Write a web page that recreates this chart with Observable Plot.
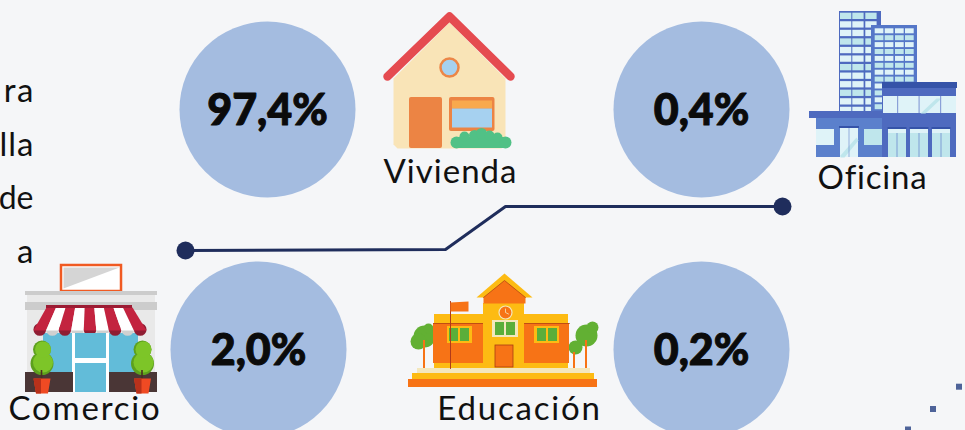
<!DOCTYPE html>
<html lang="es">
<head>
<meta charset="utf-8">
<script src="https://cdn.jsdelivr.net/npm/d3@7"></script>
<script src="https://cdn.jsdelivr.net/npm/@observablehq/plot@0.6"></script>
<style>
html,body{margin:0;padding:0;background:#f5f6f8;overflow:hidden}
svg{display:block}
</style>
</head>
<body>
<div id="chart"></div>
<script>
// ---- data ----
const categories = ["Vivienda", "Comercio", "Oficina", "Educación"];
const shares = [97.4, 2.0, 0.4, 0.2];
const fragments = ["ra", "lla", "de", "a"];

// ---- layout (pixel-like units of the linear x / y scales) ----
const circleX = [267, 258, 701, 701];
const circleY = [109, 349, 109, 349];
const labelX = [450, 84.5, 872, 519];
const labelY = [172, 409, 178, 409];
const labelSpacing = [1, 1.8, 0.8, 1.8];
const fragmentY = [91, 145, 198, 252];
const fragmentSize = [33, 33, 32, 33];
const fragmentSpacing = [1.5, 1, 0, 1.5];
const connector = [[185,250],[445,249],[505,206],[782,206]];

const fmt = v => v.toFixed(1).replace(".", ",") + "%";
const idx = shares.map((_, i) => i);
const X = d => d[0], Y = d => d[1];

// helpers: all shapes go through Plot's x / y scales
const R = (x1, x2, y1, y2, fill, o = {}) => Plot.rect([0], {x1: () => x1, x2: () => x2, y1: () => y1, y2: () => y2, fill, ...o});
const C = (x, y, r, fill, o = {}) => Plot.dot([0], {x: () => x, y: () => y, r, fill, stroke: "none", ...o});
const P = (pts, fill) => Plot.line(pts, {x: X, y: Y, fill, stroke: "none"});
const L = (pts, stroke, strokeWidth, o = {}) => Plot.line(pts, {x: X, y: Y, stroke, strokeWidth, ...o});

// ---- house ----
const house = [
  P([[393,78],[449,22],[505,78],[505,144],[501,148],[397,148],[393,144]], "#f9e4b7"),
  L([[387,76],[449,16],[510,76]], "#e54b50", 8.5, {strokeLinecap: "round", strokeLinejoin: "round"}),
  C(449, 67, 9, "#a6d1f0", {stroke: "#ec8647", strokeWidth: 2.5}),
  R(409, 442, 97, 148, "#ec8444", {rx: 2}),
  R(449, 494.5, 97, 131, "#ec8444", {rx: 2}),
  R(452, 492, 100.5, 108.5, "#f8a94e"),
  R(452, 492, 108.5, 127.5, "#a6d1f0"),
  R(456, 506, 137, 148, "#51c186"),
  C(456, 142, 6, "#51c186"), C(505, 142, 6, "#51c186"),
  C(464, 136, 5, "#51c186"), C(474, 135, 5.5, "#51c186"), C(481, 133, 5.5, "#51c186"),
  C(489, 135, 5, "#51c186"), C(497, 137, 5, "#51c186")
];

// ---- office ----
const range = (n, f) => d3.range(n).map(f);
const office = [
  R(839, 881, 11, 112, "#4e6abf"),
  ...[840, 852.3, 865.3].flatMap(x => range(12, i => R(x, x + 11.3, 12.7 + i * 8.55, 19 + i * 8.55, i % 3 === 0 ? "#bfe6ec" : "#dff3f8"))),
  R(871, 917, 25, 112, "#5577c8"),
  ...[874.7, 884.7, 895, 905].flatMap(x => range(12, i => R(x, x + 8.7, 28.3 + i * 6.9, 33.3 + i * 6.9, i % 2 ? "#bfe6ec" : "#dff3f8"))),
  R(882, 956, 88, 157, "#4e6abf"),
  R(882, 957, 82, 88, "#3553a8"),
  R(883, 956, 96, 113, "#dff3f8"),
  P([[920,113],[936,98],[941,98],[925,113]], "#bfe6ec"),
  ...[897, 918.5, 940].map(x => R(x, x + 1.2, 96, 113, "#8aa0d8")),
  R(809, 882, 111, 118, "#4e6abf"),
  R(816, 882, 118, 157, "#5b80cc"),
  R(816, 834, 129, 145, "#dff3f8"),
  R(864, 882, 129, 145, "#bfe6ec"),
  R(840, 858, 127, 157, "#dff3f8"),
  P([[840,155],[856,137],[858,140],[844,157],[840,157]], "#bfe6ec"),
  R(848.6, 849.4, 127, 157, "#7f9bd4"),
  R(839, 859, 126, 128, "#3553a8"),
  ...[888, 910, 932].flatMap(x => [
    R(x, x + 18, 128, 157, "#bfe6ec"),
    R(x, x + 18, 128, 133, "#dff3f8"),
    R(x - 0.5, x + 18.5, 127, 129, "#3553a8"),
    R(x + 8.5, x + 9.5, 133, 157, "#7f9bd4")
  ])
];

// ---- shop ----
const awningEdges = d3.range(10).map(i => [46 + i * 86 / 9, 33 + i * 113 / 9]);
const shop = [
  R(61, 121, 265, 291, "#fff", {stroke: "#f05a22", strokeWidth: 2.5}),
  P([[63,267],[119,267],[63,288]], "#d5d5d5"),
  R(27, 155, 295, 373, "#e9e9e9"),
  R(25, 157, 291, 295, "#cccccc"),
  R(25, 157, 302, 310, "#cccccc"),
  R(43, 138, 333, 373, "#62bcd9"),
  ...awningEdges.slice(0, 9).map((e, i) => C((e[1] + awningEdges[i + 1][1]) / 2, 329, 6.3, i % 2 ? "#d0d0d0" : "#8f1d33")),
  ...awningEdges.slice(0, 9).map((e, i) => P([[e[0], 307],[awningEdges[i + 1][0], 307],[awningEdges[i + 1][1], 330],[e[1], 330]], i % 2 ? "#ffffff" : "#c3233f")),
  R(46, 132, 305, 308, "#9c1c34"),
  R(72, 109, 333, 392, "#ffffff"),
  R(75, 106, 333, 358, "#62bcd9"),
  R(75, 106, 363, 392, "#62bcd9"),
  R(25, 73, 372, 392, "#4a3636"),
  R(109, 157, 372, 392, "#4a3636"),
  ...[41.5, 142].flatMap(x => [
    C(x, 363, 11.5, "#5da01e"), C(x, 349, 9, "#5da01e"),
    C(x + 1, 362, 10, "#7dc528"), C(x + 1, 349, 8, "#7dc528"),
    R(x - 0.8, x + 0.8, 370, 380, "#4a3020"),
    P([[x - 8.5,378],[x + 8.5,378],[x + 6,393],[x - 6,393]], "#ef4a23"),
    P([[x - 8.5,378],[x - 1,378],[x - 1,393],[x - 6,393]], "#b8311b")
  ])
];

// ---- school ----
const school = [
  C(424, 336, 11, "#62b033"), C(418, 341, 8, "#62b033"), C(428, 328, 5, "#62b033"),
  C(586, 335, 11, "#62b033"), C(575, 347, 7, "#62b033"), C(592, 327, 6, "#62b033"),
  R(423, 425, 340, 368, "#f77316"), R(585, 587, 340, 368, "#f77316"), R(573, 575, 352, 368, "#f77316"),
  R(408, 597, 379, 387, "#f77316"),
  R(412, 594, 373, 379, "#fdbb13"),
  R(417, 590, 368, 373, "#f3e7bd"),
  R(434, 483, 314, 323, "#fdbb13"),
  R(433, 483, 323, 363, "#f77316"),
  R(434, 483, 363, 368, "#fdbb13"),
  L([[433,323],[483,323]], "#a83c12", 0.7),
  R(524, 568, 314, 323, "#fdbb13"),
  R(524, 569, 323, 363, "#f77316"),
  R(524, 568, 363, 368, "#fdbb13"),
  L([[524,323],[569,323]], "#a83c12", 0.7),
  R(483, 524, 303, 368, "#fdbb13"),
  P([[476,297],[504,273],[532,297]], "#fdbb13"),
  P([[483,303],[483,297],[504,280],[525,297],[525,303]], "#f77316"),
  L([[483,297],[504,280],[525,297]], "#a83c12", 0.7),
  C(505, 312, 6.5, "#f77316", {stroke: "#f3e7bd", strokeWidth: 1.2}),
  L([[505,308.5],[505,312],[508,313.5]], "#f3e7bd", 0.8),
  R(492, 518, 320, 337, "#f3e7bd"),
  R(495, 504, 322, 335, "#5aae3a"), R(506, 515, 322, 335, "#5aae3a"),
  R(495, 513, 345, 367, "#f77316", {stroke: "#a83c12", strokeWidth: 0.8}),
  R(447, 472, 326, 343, "#fdbb13"),
  R(449, 458, 328, 341, "#5aae3a"), R(460, 469, 328, 341, "#5aae3a"),
  R(534, 559, 326, 343, "#fdbb13"),
  R(537, 546, 328, 341, "#5aae3a"), R(548, 557, 328, 341, "#5aae3a"),
  L([[450,301],[450,368]], "#b03a1a", 1),
  P([[450,302],[468,301],[468,311],[450,311]], "#f77316")
];

// ---- corner decoration ----
const corner = [[959,386.7],[933,409],[908,429.5]].map(([x, y]) => R(x - 3, x + 3, y - 3, y + 3, "#4e6399"));

const chart = Plot.plot({
  width: 965,
  height: 430,
  margin: 0,
  style: {background: "#f5f6f8", fontFamily: "Lato, sans-serif"},
  x: {domain: [0, 965], range: [0, 965], axis: null},
  y: {domain: [0, 430], range: [0, 430], axis: null},
  marks: [
    Plot.dot(idx, {x: i => circleX[i], y: i => circleY[i], r: 88, fill: "#a4bce0", stroke: "none"}),
    ...house, ...office, ...shop, ...school, ...corner,
    L(connector, "#1f2d5c", 3),
    Plot.dot([connector[0], connector[3]], {x: X, y: Y, r: 9, fill: "#1f2d5c", stroke: "none"}),
    Plot.text(idx, {x: i => circleX[i], y: i => circleY[i] + 2, text: i => fmt(shares[i]), fontSize: 43, fontWeight: 900, fill: "#0b0b0b", stroke: "#0b0b0b", strokeWidth: 1, textAnchor: "middle"}),
    ...idx.map(i => Plot.text([categories[i]], {x: () => labelX[i], y: () => labelY[i], text: d => d, fontSize: 33, fontWeight: 400, fill: "#111", textAnchor: "middle"})),
    ...fragments.map((t, i) => Plot.text([t], {x: () => 33 + fragmentSpacing[i], y: () => fragmentY[i], text: d => d, fontSize: fragmentSize[i], fill: "#111", textAnchor: "end"}))
  ]
});

// Plot has no letter-spacing option, so it is set on the text it drew
const spacing = new Map([
  ...categories.map((t, i) => [t, labelSpacing[i]]),
  ...fragments.map((t, i) => [t, fragmentSpacing[i]])
]);
chart.querySelectorAll("text").forEach(t => {
  const s = spacing.get(t.textContent);
  if (s) t.style.letterSpacing = s + "px";
});
document.getElementById("chart").append(chart);
</script>
</body>
</html>
